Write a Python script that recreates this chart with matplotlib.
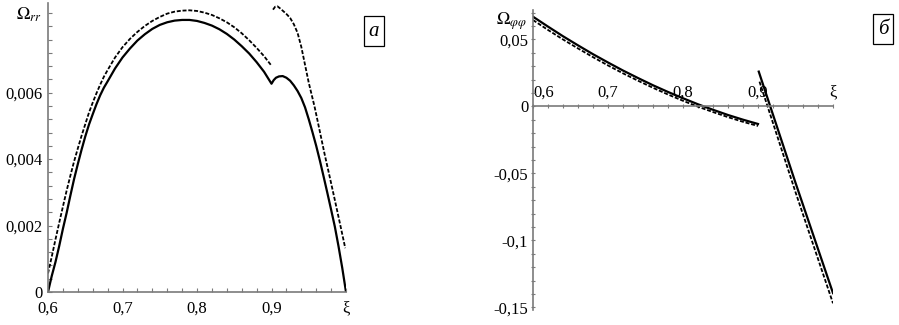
import matplotlib
matplotlib.use("Agg")
import matplotlib.pyplot as plt
from matplotlib.ticker import FixedLocator, MultipleLocator

plt.rcParams['font.family'] = ['Liberation Serif', 'DejaVu Serif']
plt.rcParams['mathtext.fontset'] = 'stix'

# ---- Panel a: Omega_rr ----
a_solid_x = [0.600, 0.605, 0.610, 0.615, 0.620, 0.625, 0.630, 0.635, 0.640, 0.645,
             0.650, 0.655, 0.660, 0.665, 0.670, 0.675, 0.680, 0.690, 0.700, 0.710,
             0.720, 0.730, 0.740, 0.750, 0.760, 0.770, 0.780, 0.790, 0.800, 0.810,
             0.820, 0.830, 0.840, 0.850, 0.860, 0.870, 0.880, 0.890, 0.900, 0.903,
             0.906, 0.910, 0.915, 0.920, 0.925, 0.930, 0.935, 0.940, 0.945, 0.950,
             0.955, 0.960, 0.965, 0.970, 0.975, 0.980, 0.985, 0.990, 0.995, 1.000]
a_solid_y = [0.0, 0.00048, 0.00090, 0.00138, 0.00190, 0.00238, 0.00290, 0.00340, 0.00385, 0.00428,
             0.00468, 0.00504, 0.00535, 0.00565, 0.00592, 0.00615, 0.00634, 0.00673, 0.00706, 0.00733,
             0.00757, 0.00776, 0.00792, 0.00804, 0.00812, 0.00817, 0.00819, 0.00819, 0.00816, 0.00810,
             0.00802, 0.00791, 0.00777, 0.00760, 0.00740, 0.00718, 0.00692, 0.00663, 0.00627, 0.00638,
             0.00645, 0.00649, 0.00650, 0.00645, 0.00636, 0.00622, 0.00605, 0.00584, 0.00556, 0.00520,
             0.00481, 0.00440, 0.00395, 0.00347, 0.00298, 0.00248, 0.00197, 0.00137, 0.00072, 0.0]
a_dash1_x = [0.600, 0.605, 0.610, 0.615, 0.620, 0.625, 0.630, 0.635, 0.640, 0.645,
             0.650, 0.655, 0.660, 0.665, 0.670, 0.675, 0.680, 0.690, 0.700, 0.710,
             0.720, 0.730, 0.740, 0.750, 0.760, 0.770, 0.780, 0.790, 0.800, 0.810,
             0.820, 0.830, 0.840, 0.850, 0.860, 0.870, 0.880, 0.890, 0.899]
a_dash1_y = [0.00056, 0.00106, 0.00158, 0.00208, 0.00257, 0.00305, 0.00350, 0.00393, 0.00432, 0.00470,
             0.00505, 0.00540, 0.00570, 0.00598, 0.00624, 0.00648, 0.00668, 0.00706, 0.00737, 0.00762,
             0.00783, 0.00801, 0.00816, 0.00828, 0.00838, 0.00844, 0.00847, 0.00848, 0.00846, 0.00841,
             0.00834, 0.00824, 0.00812, 0.00797, 0.00779, 0.00758, 0.00735, 0.00710, 0.00684]
a_dash2_x = [0.902, 0.905, 0.908, 0.912, 0.916, 0.920, 0.925, 0.930, 0.935, 0.940,
             0.945, 0.950, 0.958, 0.965, 0.971, 0.978, 0.985, 0.992, 0.999]
a_dash2_y = [0.00850, 0.00859, 0.00860, 0.00853, 0.00845, 0.00837, 0.00825, 0.00806, 0.00780, 0.00738,
             0.00684, 0.00630, 0.00556, 0.00482, 0.00418, 0.00348, 0.00277, 0.00205, 0.00132]

a_xticks = [0.6, 0.7, 0.8, 0.9, 1.0]
a_xticklabels = ['0,6', '0,7', '0,8', '0,9', 'ξ']
a_yticks = [0, 0.002, 0.004, 0.006]
a_yticklabels = ['0', '0,002', '0,004', '0,006']

# ---- Panel b: Omega_phiphi ----
b_solid1_x = [0.60, 0.62, 0.64, 0.66, 0.68, 0.70, 0.72, 0.74, 0.76, 0.78,
              0.80, 0.82, 0.84, 0.86, 0.88, 0.90]
b_solid1_y = [0.0670, 0.0596, 0.0524, 0.0456, 0.0390, 0.0328, 0.0268, 0.0212, 0.0158, 0.0108,
              0.0061, 0.0016, -0.0025, -0.0064, -0.0099, -0.0131]
b_dash1_x = [0.60, 0.62, 0.64, 0.66, 0.68, 0.70, 0.72, 0.74, 0.76, 0.78,
             0.80, 0.82, 0.84, 0.86, 0.88, 0.90]
b_dash1_y = [0.0645, 0.0571, 0.0500, 0.0433, 0.0368, 0.0306, 0.0247, 0.0192, 0.0139, 0.0089,
             0.0042, -0.0002, -0.0042, -0.0080, -0.0115, -0.0146]
b_solid2_x = [0.901, 0.950, 1.000]
b_solid2_y = [0.0260, -0.0570, -0.1394]
b_dash2_x = [0.902, 0.950, 1.000]
b_dash2_y = [0.0185, -0.0640, -0.1470]

b_xticks = [0.6, 0.7, 0.8, 0.9, 1.0]
b_xticklabels = ['0,6', '0,7', '0,8', '0,9', 'ξ']
b_yticks = [0.05, 0, -0.05, -0.1, -0.15]
b_yticklabels = ['0,05', '0', '-0,05', '-0,1', '-0,15']

AXC = '#7a7a7a'
FS = 12

fig = plt.figure(figsize=(8.99, 3.25), dpi=100)

# Panel a
ax1 = fig.add_axes([48/899, 1-292/325, (346-48)/899, (292-3)/325])
ax1.plot(a_solid_x, a_solid_y, color='black', lw=1.6)
ax1.plot(a_dash1_x, a_dash1_y, color='black', lw=1.3, dashes=(2.2, 1.0))
ax1.plot(a_dash2_x, a_dash2_y, color='black', lw=1.3, dashes=(2.2, 1.0))
ax1.set_xlim(0.6, 1.0)
ax1.set_ylim(0, 0.0087)
for s in ['top', 'right']:
    ax1.spines[s].set_visible(False)
for s in ['left', 'bottom']:
    ax1.spines[s].set_color(AXC)
    ax1.spines[s].set_linewidth(1.2)
ax1.xaxis.set_major_locator(FixedLocator(a_xticks))
ax1.set_xticklabels(a_xticklabels, fontsize=FS)
ax1.yaxis.set_major_locator(FixedLocator(a_yticks))
ax1.set_yticklabels(a_yticklabels, fontsize=FS)
ax1.xaxis.set_minor_locator(MultipleLocator(0.02))
ax1.yaxis.set_minor_locator(MultipleLocator(0.0004))
ax1.tick_params(which='both', direction='in', color=AXC, length=3, width=0.8)
ax1.tick_params(axis='x', pad=6)
ax1.tick_params(axis='y', pad=4)
ax1.get_yticklabels()[0].set_va('center_baseline')
ax1.text(-0.02, 0.99, r'$\Omega_{rr}$', transform=ax1.transAxes, ha='right', va='top', fontsize=13)
ax1.text(374/899, 1-31/325, 'а', transform=fig.transFigure, ha='center', va='center',
         fontsize=15, style='italic',
         bbox=dict(boxstyle='square,pad=0.25', fc='white', ec='black', lw=0.9))

# Panel b
ax2 = fig.add_axes([533/899, 1-310/325, (833-533)/899, (310-10)/325])
ax2.plot(b_solid1_x, b_solid1_y, color='black', lw=1.6)
ax2.plot(b_dash1_x, b_dash1_y, color='black', lw=1.3, dashes=(2.2, 1.0))
ax2.plot(b_solid2_x, b_solid2_y, color='black', lw=1.6)
ax2.plot(b_dash2_x, b_dash2_y, color='black', lw=1.3, dashes=(2.2, 1.0))
ax2.set_xlim(0.6, 1.0)
ax2.set_ylim(-0.152, 0.072)
for s in ['bottom', 'right']:
    ax2.spines[s].set_visible(False)
ax2.spines['top'].set_position(('data', 0))
for s in ['left', 'top']:
    ax2.spines[s].set_color(AXC)
    ax2.spines[s].set_linewidth(1.2)
ax2.xaxis.tick_top()
ax2.xaxis.set_major_locator(FixedLocator(b_xticks))
ax2.set_xticklabels(b_xticklabels, fontsize=FS)
ax2.yaxis.set_major_locator(FixedLocator(b_yticks))
ax2.set_yticklabels(b_yticklabels, fontsize=FS)
ax2.xaxis.set_minor_locator(MultipleLocator(0.02))
ax2.yaxis.set_minor_locator(MultipleLocator(0.01))
ax2.tick_params(which='both', direction='inout', color=AXC, length=3, width=0.8, pad=2)
ax2.tick_params(axis='x', pad=3)
ax2.get_xticklabels()[0].set_ha('left')
ax2.text(-0.02, 1.0, r'$\Omega_{\varphi\varphi}$', transform=ax2.transAxes, ha='right', va='top', fontsize=13)
ax2.text(883/899, 1-29/325, 'б', transform=fig.transFigure, ha='center', va='center',
         fontsize=15, style='italic',
         bbox=dict(boxstyle='square,pad=0.25', fc='white', ec='black', lw=0.9))

fig.savefig('out.png', dpi=100)
